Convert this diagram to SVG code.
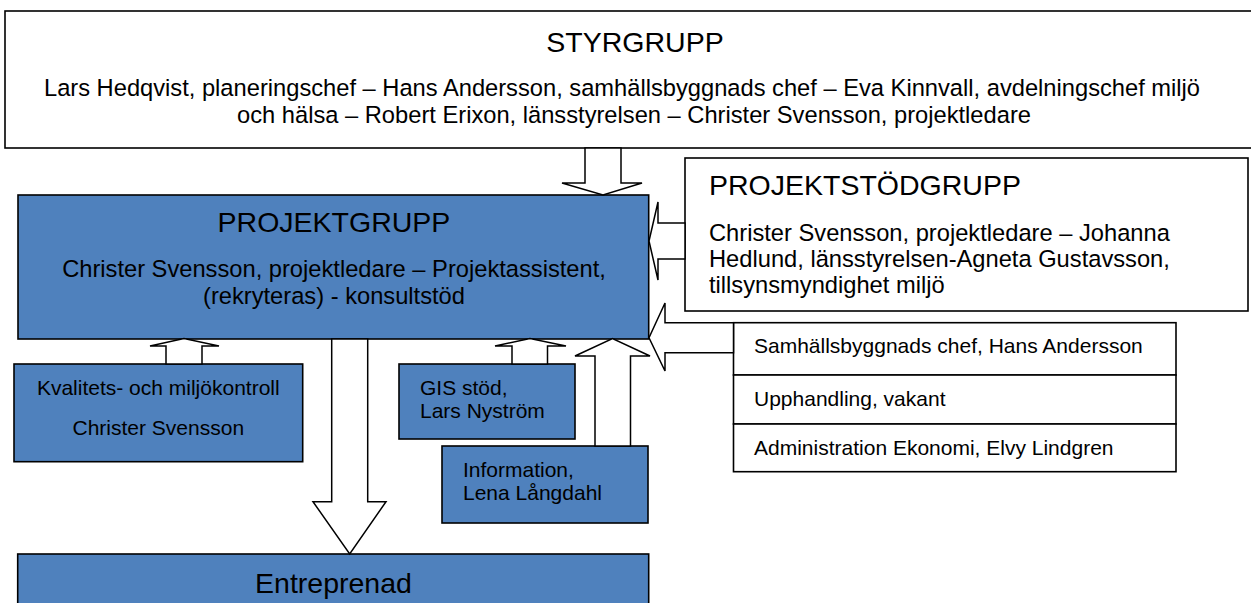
<svg xmlns="http://www.w3.org/2000/svg" width="1251" height="603" viewBox="0 0 1251 603">
<style>
text{font-family:"Liberation Sans",Arial,sans-serif;fill:#000}
.w{fill:#fff;stroke:#000;stroke-width:1.6}
.b{fill:#4F81BD;stroke:#000;stroke-width:1.6}
.t{font-size:28.5px}
.m{font-size:23.7px}
.s{font-size:21px}
.c{text-anchor:middle}
.a{fill:#fff;stroke:#000;stroke-width:1.5;stroke-linejoin:miter}
</style>
<rect width="1251" height="603" fill="#fff"/>
<g id="styrgrupp">
<rect class="w" x="5" y="11" width="1260" height="137"/>
<text class="t c" x="635" y="52">STYRGRUPP</text>
<text class="m c" x="622" y="96">Lars Hedqvist, planeringschef – Hans Andersson, samhällsbyggnads chef – Eva Kinnvall, avdelningschef miljö</text>
<text class="m c" x="634" y="123">och hälsa – Robert Erixon, länsstyrelsen – Christer Svensson, projektledare</text>
</g>
<g id="projektstodgrupp">
<rect class="w" x="685" y="158" width="563" height="153"/>
<text class="t" x="709" y="195">PROJEKTSTÖDGRUPP</text>
<text class="m" x="709" y="241">Christer Svensson, projektledare – Johanna</text>
<text class="m" x="709" y="267">Hedlund, länsstyrelsen-Agneta Gustavsson,</text>
<text class="m" x="709" y="293">tillsynsmyndighet miljö</text>
</g>
<g id="projektgrupp">
<rect class="b" x="18" y="195" width="630.7" height="144"/>
<text class="t c" x="334" y="232">PROJEKTGRUPP</text>
<text class="m c" x="334" y="277">Christer Svensson, projektledare – Projektassistent,</text>
<text class="m c" x="334" y="304">(rekryteras) - konsultstöd</text>
</g>
<g id="kvalitet">
<rect class="b" x="14" y="364" width="288.7" height="97.7"/>
<text class="s c" x="158.3" y="395">Kvalitets- och miljökontroll</text>
<text class="s c" x="158.3" y="435">Christer Svensson</text>
</g>
<g id="gis">
<rect class="b" x="399" y="364" width="176" height="75"/>
<text class="s" x="420" y="395">GIS stöd,</text>
<text class="s" x="420" y="418">Lars Nyström</text>
</g>
<g id="information">
<rect class="b" x="442" y="446" width="206" height="77"/>
<text class="s" x="463" y="477">Information,</text>
<text class="s" x="463" y="500">Lena Långdahl</text>
</g>
<g id="stod">
<rect class="w" x="733.5" y="322.7" width="442.5" height="52.3"/>
<text class="s" x="754" y="353">Samhällsbyggnads chef, Hans Andersson</text>
<rect class="w" x="733.5" y="375" width="442.5" height="49"/>
<text class="s" x="754" y="406">Upphandling, vakant</text>
<rect class="w" x="733.5" y="424" width="442.5" height="47.7"/>
<text class="s" x="754" y="455">Administration Ekonomi, Elvy Lindgren</text>
</g>
<g id="entreprenad">
<rect class="b" x="17.7" y="554" width="631" height="60"/>
<text class="t c" x="333.5" y="593">Entreprenad</text>
</g>
<g id="connectors">
<polygon class="a" points="585,148 621,148 621,183 642,183 603,195 562,183 585,183"/>
<polygon class="a" points="685,223 658,223 658,202 649,241 658,280 658,259 685,259"/>
<polygon class="a" points="733.5,322.7 665,322.7 665,303 649,337.7 665,371 665,352.7 733.5,352.7"/>
<polygon class="a" points="166,364 166,346 150,346 184,338.5 219,346 202,346 202,364"/>
<polygon class="a" points="512,364 512,346 495,346 530,338.5 566,346 547.5,346 547.5,364"/>
<polygon class="a" points="595,446 595,356 575,356 612.5,338.5 650,356 630.5,356 630.5,446"/>
<polygon class="a" points="331.7,339 367.7,339 367.7,501.7 386,501.7 349.7,554 313,501.7 331.7,501.7"/>
</g>
</svg>
